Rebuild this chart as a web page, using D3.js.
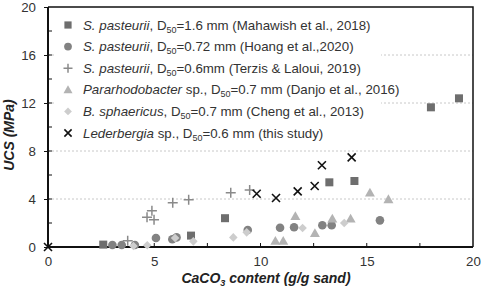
<!DOCTYPE html>
<html><head><meta charset="utf-8">
<script src="https://cdn.jsdelivr.net/npm/d3@7"></script>
<style>body{margin:0;background:#fff}svg{display:block;font-family:"Liberation Sans",Arial,sans-serif}</style>
</head><body>
<svg id="c" width="484" height="294"></svg>
<script>
// ---- data ----
const sqX = [2.6, 6.73, 8.33, 13.24, 14.42, 18.02, 19.34];
const sqY = [0.2, 0.95, 2.4, 5.39, 5.5, 11.64, 12.39];
const ciX = [3.03, 3.47, 4.09, 5.08, 5.85, 6.05, 9.40, 10.92, 11.58, 12.91, 13.35, 15.62];
const ciY = [0.17, 0.17, 0.17, 0.75, 0.64, 0.8, 1.42, 1.61, 1.64, 1.81, 1.81, 2.22];
const plX = [3.75, 4.66, 4.89, 4.99, 5.87, 6.62, 8.6, 9.49];
const plY = [0.53, 2.47, 3.03, 2.28, 3.69, 3.94, 4.53, 4.75];
const trX = [10.7, 11.07, 11.64, 12.56, 13.38, 14.24, 15.15, 16.02];
const trY = [0.5, 0.5, 2.56, 1.14, 2.36, 2.36, 4.53, 3.97];
const diX = [4.02, 4.67, 5.98, 6.84, 8.72, 9.35, 11.98, 13.94];
const diY = [0.08, 0.14, 0.75, 0.47, 0.8, 1.22, 1.58, 2.0];
const xxX = [0, 9.82, 10.73, 11.75, 12.55, 12.89, 14.29];
const xxY = [0, 4.44, 4.08, 4.64, 5.08, 6.81, 7.47];
const xTicks = [0, 5, 10, 15, 20];
const yTicks = [0, 4, 8, 12, 16, 20];
const legendLabels = [
  [["S. pasteurii", true], [", D", false], ["50", "sub"], ["=1.6 mm (Mahawish et al., 2018)", false]],
  [["S. pasteurii", true], [", D", false], ["50", "sub"], ["=0.72 mm (Hoang et al.,2020)", false]],
  [["S. pasteurii", true], [", D", false], ["50", "sub"], ["=0.6mm (Terzis & Laloui, 2019)", false]],
  [["Pararhodobacter", true], [" sp., D", false], ["50", "sub"], ["=0.7 mm (Danjo et al., 2016)", false]],
  [["B. sphaericus", true], [", D", false], ["50", "sub"], ["=0.7 mm (Cheng et al., 2013)", false]],
  [["Lederbergia", true], [" sp., D", false], ["50", "sub"], ["=0.6 mm (this study)", false]]
];

const series = [
  {xs: sqX, ys: sqY, type: "square", color: "#6e6e6e"},
  {xs: ciX, ys: ciY, type: "circle", color: "#828282"},
  {xs: plX, ys: plY, type: "plus", color: "#8a8a8a"},
  {xs: trX, ys: trY, type: "triangle", color: "#b3b3b3"},
  {xs: diX, ys: diY, type: "diamond", color: "#cdcdcd"},
  {xs: xxX, ys: xxY, type: "cross", color: "#111"}
];

const svg = d3.select("#c");
const L = 48, R = 473, T = 7, B = 247;
const x = d3.scaleLinear().domain([0, 20]).range([L, R]);
const y = d3.scaleLinear().domain([0, 20]).range([B, T]);

// gridlines
svg.append("g").selectAll("line").data([4, 8, 12, 16]).join("line")
  .attr("x1", L).attr("x2", R).attr("y1", d => y(d)).attr("y2", d => y(d))
  .attr("stroke", "#c8c8c8").attr("stroke-width", 1).attr("stroke-dasharray", "2,2");

// frame top/right
svg.append("path").attr("d", `M${L},${T}H${R}V${B}`).attr("fill", "none").attr("stroke", "#111").attr("stroke-width", 1.5);

// minor ticks inside
svg.append("g").selectAll("line").data(d3.range(2, 20, 2)).join("line")
  .attr("x1", L).attr("x2", L + 4).attr("y1", d => y(d)).attr("y2", d => y(d)).attr("stroke", "#111");
svg.append("g").selectAll("line").data(d3.range(2.5, 20, 2.5)).join("line")
  .attr("x1", d => x(d)).attr("x2", d => x(d)).attr("y1", B).attr("y2", B - 4).attr("stroke", "#111");

// axes
const xAxis = svg.append("g").attr("transform", `translate(0,${B})`)
  .call(d3.axisBottom(x).tickValues(xTicks).tickSize(0).tickPadding(10));
const yAxis = svg.append("g").attr("transform", `translate(${L},0)`)
  .call(d3.axisLeft(y).tickValues(yTicks).tickSize(4).tickPadding(8));
[xAxis, yAxis].forEach(g => {
  g.select(".domain").attr("stroke", "#111").attr("stroke-width", 2);
  g.selectAll("text").attr("font-size", 13.3).attr("fill", "#333").attr("font-family", '"Liberation Sans",Arial,sans-serif');
  g.selectAll(".tick line").attr("stroke", "#111");
});
xAxis.select(".domain").attr("d", `M${L},0H${R}`);
yAxis.select(".domain").attr("d", `M0,${T}V${B}`);

// titles
const xt = svg.append("text").attr("x", 266).attr("y", 283).attr("text-anchor", "middle")
  .attr("font-size", 14).attr("font-weight", "bold").attr("font-style", "italic").attr("fill", "#222");
xt.append("tspan").text("CaCO");
xt.append("tspan").text("3").attr("font-size", 9).attr("dy", 3);
xt.append("tspan").text(" content (g/g sand)").attr("dy", -3);
svg.append("text").attr("transform", "translate(14,135) rotate(-90)").attr("text-anchor", "middle")
  .attr("font-size", 14).attr("font-weight", "bold").attr("font-style", "italic").attr("fill", "#222")
  .text("UCS (MPa)");

// symbol drawing
function drawMark(g, type, color, cx, cy, s) {
  s = s || 1;
  if (type === "square") g.append("rect").attr("x", cx - 4*s).attr("y", cy - 4*s).attr("width", 8*s).attr("height", 8*s).attr("fill", color);
  else if (type === "circle") g.append("circle").attr("cx", cx).attr("cy", cy).attr("r", 4.3*s).attr("fill", color);
  else if (type === "plus") g.append("path").attr("d", `M${cx-5*s},${cy}H${cx+5*s}M${cx},${cy-5*s}V${cy+5*s}`).attr("stroke", color).attr("stroke-width", 1.5);
  else if (type === "triangle") g.append("path").attr("d", `M${cx},${cy-5*s}L${cx+5*s},${cy+3.8*s}L${cx-5*s},${cy+3.8*s}Z`).attr("fill", color);
  else if (type === "diamond") g.append("path").attr("d", `M${cx},${cy-4.3*s}L${cx+4.3*s},${cy}L${cx},${cy+4.3*s}L${cx-4.3*s},${cy}Z`).attr("fill", color);
  else if (type === "cross") g.append("path").attr("d", `M${cx-4*s},${cy-4*s}L${cx+4*s},${cy+4*s}M${cx+4*s},${cy-4*s}L${cx-4*s},${cy+4*s}`).attr("stroke", color).attr("stroke-width", 1.6);
}

// legend background
svg.append("rect").attr("x", 56).attr("y", 12).attr("width", 325).attr("height", 133).attr("fill", "#fff");
const lg = svg.append("g");
legendLabels.forEach((parts, i) => {
  const cy = 25 + i * 21.6;
  drawMark(lg, series[i].type, series[i].color, 68, cy, 0.9);
  const t = lg.append("text").attr("x", 83).attr("y", cy + 4.5).attr("font-size", 13.3).attr("fill", "#333");
  let sub = false;
  parts.forEach(([s, st]) => {
    const ts = t.append("tspan").text(s);
    if (st === true) ts.attr("font-style", "italic");
    if (st === "sub") { ts.attr("font-size", 9).attr("dy", 3); sub = true; }
    else if (sub) { ts.attr("dy", -3); sub = false; }
  });
});

// points
const pg = svg.append("g");
series.forEach(s => {
  s.xs.forEach((v, i) => drawMark(pg, s.type, s.color, x(v), y(s.ys[i]), 1));
});
</script>
</body></html>
